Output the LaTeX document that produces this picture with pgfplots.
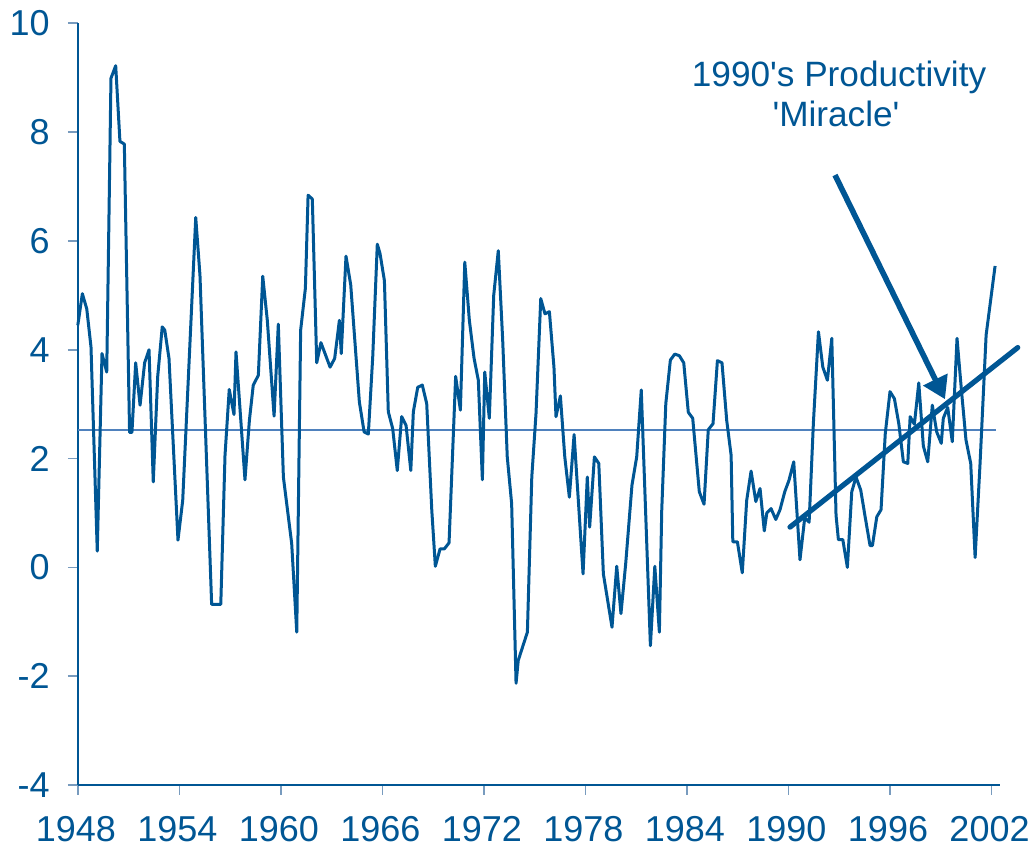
\documentclass[border=0pt]{standalone}
\usepackage{pgfplots}
\pgfplotsset{compat=1.18}
\usepackage{pgfplotstable}
\usepackage{fontspec}
\setmainfont{Liberation Sans}
\usetikzlibrary{arrows.meta}
\definecolor{dblue}{RGB}{0,86,148}
\definecolor{lblue}{RGB}{79,129,189}
\definecolor{tickc}{RGB}{120,155,190}
\pgfplotstableread{
year val
1948.00 4.45
1948.27 5.03
1948.53 4.75
1948.78 4.05
1949.15 0.30
1949.43 3.93
1949.71 3.59
1949.96 8.99
1950.24 9.22
1950.49 7.83
1950.75 7.78
1951.06 2.48
1951.20 2.48
1951.42 3.76
1951.68 2.98
1951.95 3.76
1952.21 4.00
1952.46 1.57
1952.72 3.50
1952.99 4.42
1953.14 4.36
1953.39 3.84
1953.92 0.50
1954.20 1.23
1954.97 6.43
1955.22 5.37
1955.91 -0.68
1956.45 -0.68
1956.70 2.06
1956.95 3.27
1957.23 2.81
1957.35 3.96
1957.88 1.61
1958.14 2.70
1958.37 3.35
1958.67 3.53
1958.93 5.35
1959.20 4.54
1959.60 2.78
1959.85 4.47
1960.15 1.66
1960.64 0.44
1960.94 -1.19
1961.17 4.36
1961.45 5.13
1961.61 6.84
1961.86 6.77
1962.12 3.76
1962.37 4.13
1962.91 3.68
1963.18 3.84
1963.46 4.54
1963.57 3.93
1963.85 5.72
1964.13 5.19
1964.64 3.04
1964.92 2.49
1965.17 2.45
1965.43 3.87
1965.70 5.94
1965.86 5.77
1966.12 5.27
1966.35 2.86
1966.61 2.55
1966.88 1.78
1967.14 2.77
1967.40 2.61
1967.68 1.78
1967.83 2.86
1968.09 3.31
1968.36 3.35
1968.62 3.01
1968.92 1.05
1969.13 0.02
1969.41 0.34
1969.66 0.34
1969.94 0.45
1970.33 3.51
1970.61 2.89
1970.87 5.61
1971.14 4.54
1971.42 3.84
1971.67 3.44
1971.91 1.61
1972.05 3.59
1972.32 2.74
1972.58 5.00
1972.85 5.82
1973.11 4.18
1973.38 2.03
1973.64 1.17
1973.90 -2.13
1974.03 -1.71
1974.57 -1.19
1974.83 1.66
1975.08 2.83
1975.36 4.94
1975.61 4.66
1975.87 4.70
1976.14 3.68
1976.26 2.77
1976.52 3.15
1976.78 2.03
1977.05 1.29
1977.33 2.44
1977.86 -0.12
1978.11 1.66
1978.25 0.74
1978.53 2.03
1978.79 1.91
1979.06 -0.12
1979.57 -1.10
1979.85 0.02
1980.10 -0.85
1980.38 0.07
1980.75 1.51
1981.03 2.03
1981.30 3.26
1981.84 -1.44
1982.10 0.02
1982.37 -1.19
1982.51 1.05
1982.75 3.01
1983.02 3.81
1983.28 3.92
1983.55 3.89
1983.81 3.76
1984.08 2.85
1984.34 2.74
1984.73 1.39
1985.01 1.16
1985.26 2.53
1985.54 2.64
1985.80 3.80
1986.07 3.76
1986.35 2.70
1986.61 2.06
1986.71 0.47
1986.98 0.47
1987.27 -0.10
1987.53 1.23
1987.79 1.77
1988.07 1.21
1988.32 1.45
1988.57 0.67
1988.72 1.00
1988.97 1.08
1989.25 0.88
1989.50 1.06
1989.78 1.39
1990.03 1.60
1990.31 1.94
1990.68 0.14
1990.96 0.91
1991.22 0.83
1991.47 2.64
1991.77 4.33
1992.03 3.68
1992.30 3.44
1992.56 4.21
1992.81 0.96
1992.95 0.51
1993.21 0.51
1993.48 0.00
1993.74 1.39
1993.99 1.66
1994.27 1.42
1994.53 0.93
1994.82 0.40
1994.96 0.40
1995.22 0.93
1995.47 1.06
1995.72 2.46
1996.00 3.23
1996.26 3.10
1996.52 2.64
1996.79 1.94
1997.05 1.91
1997.19 2.77
1997.44 2.63
1997.70 3.39
1997.97 2.23
1998.23 1.94
1998.50 2.98
1998.76 2.49
1999.03 2.28
1999.15 2.74
1999.41 2.94
1999.68 2.31
1999.96 4.21
2000.22 3.26
2000.49 2.34
2000.77 1.91
2001.03 0.18
2001.32 1.90
2001.68 4.27
2002.21 5.54
}\prod
\begin{document}
\begin{tikzpicture}
\begin{axis}[
  at={(0,0)}, anchor=south west,
  scale only axis, width=461.1pt, height=380.85pt,
  xmin=1948, xmax=2002.5, ymin=-4, ymax=10,
  axis x line*=bottom, axis y line*=left,
  axis line style={-, dblue, line width=0.8pt},
  xtick={1948,1954,1960,1966,1972,1978,1984,1990,1996,2002},
  xticklabels={1948,1954,1960,1966,1972,1978,1984,1990,1996,2002},
  ytick={-4,-2,0,2,4,6,8,10},
  yticklabels={-4,-2,0,2,4,6,8,10},
  tick align=outside, major tick length=5pt,
  tick style={tickc, line width=0.8pt},
  ticklabel style={font=\fontsize{18}{21.6}\selectfont, text=dblue},
  xticklabel style={yshift=-7pt, xshift=-1pt},
  yticklabel style={xshift=-5.5pt},
  clip=false,
]
\addplot[lblue, line width=1.2pt] coordinates {(1948,2.52) (2002.25,2.52)};
\addplot[dblue, line width=1.5pt, line join=round] table[x=year, y=val] {\prod};
\draw[dblue, line width=2.6pt, line cap=round] (axis cs:1990.09,0.74) -- (axis cs:2003.55,4.04);
\draw[dblue, line width=2.8pt, -{Triangle[length=11pt,width=13pt]}] (axis cs:1992.75,7.21) -- (axis cs:1999.25,3.09);
\node[anchor=base, font=\fontsize{17.6}{21.6}\selectfont, text=dblue, inner sep=0pt] at (axis cs:1992.99,8.83) {1990\textquotesingle s Productivity};
\node[anchor=base, font=\fontsize{17.6}{21.6}\selectfont, text=dblue, inner sep=0pt] at (axis cs:1992.81,8.10) {\textquotesingle Miracle\textquotesingle};
\end{axis}
\pgfresetboundingbox
\path[use as bounding box] (-38.9pt,-33pt) rectangle (475.6pt,392.5pt);
\end{tikzpicture}
\end{document}
